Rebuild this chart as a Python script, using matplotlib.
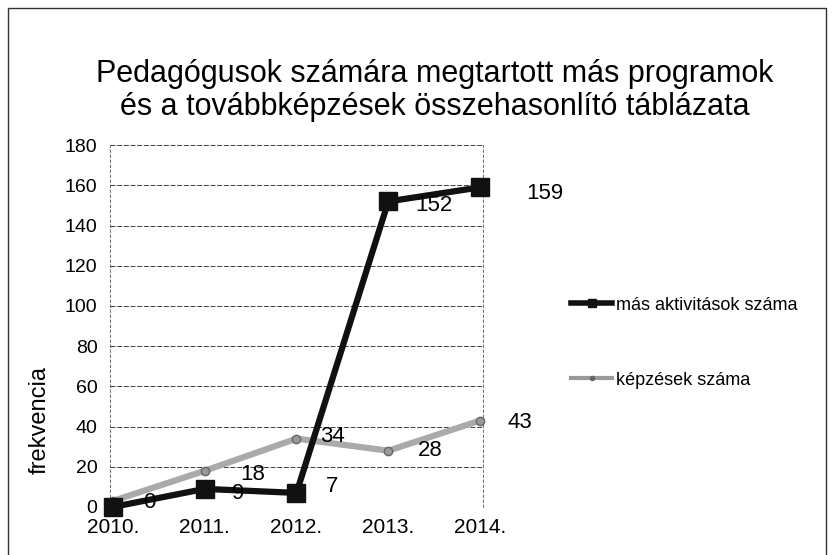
import matplotlib.pyplot as plt
from matplotlib.patches import Rectangle
from matplotlib.lines import Line2D

plt.rcParams['font.family'] = ['Liberation Sans', 'DejaVu Sans']

years = ['2010.', '2011.', '2012.', '2013.', '2014.']
mas_aktivitasok = [0, 9, 7, 152, 159]
kepzesek = [3, 18, 34, 28, 43]

title = 'Pedagógusok számára megtartott más programok\nés a továbbképzések összehasonlító táblázata'

fig = plt.figure(figsize=(8.34, 5.55), dpi=100)
ax = fig.add_axes([0.132, 0.0865, 0.447, 0.652])

x = range(len(years))
ax.plot(x, kepzesek, color='#aaaaaa', lw=4.5, marker='o', ms=6,
        mfc='#999999', mec='#666666', clip_on=False, zorder=3)
ax.plot(x, mas_aktivitasok, color='#111111', lw=4.5, marker='s', ms=13,
        clip_on=False, zorder=4)

# data labels, offsets in data units
mas_offsets = [(0.4, 2), (0.36, -2.5), (0.39, 3), (0.5, -2), (0.7, -3)]
for i, v in enumerate(mas_aktivitasok):
    dx, dy = mas_offsets[i]
    ax.text(i + dx, v + dy, str(v), fontsize=16, ha='center', va='center',
            clip_on=False, zorder=5)
kep_offsets = [None, (0.52, -2), (0.39, 1), (0.46, 0), (0.43, -1)]
for i, v in enumerate(kepzesek):
    if kep_offsets[i] is None:
        continue
    dx, dy = kep_offsets[i]
    ax.text(i + dx, v + dy, str(v), fontsize=16, ha='center', va='center',
            clip_on=False, zorder=5)

ax.set_xlim(-0.03, 4.03)
ax.set_ylim(0, 180)
ax.set_yticks(range(0, 181, 20))
ax.set_xticks(list(x))
ax.set_xticklabels(years)
ax.tick_params(axis='y', length=0, labelsize=14, pad=9)
ax.tick_params(axis='x', length=0, labelsize=15, pad=8)
ax.grid(axis='y', color='#222222', ls=(0, (6, 2)), lw=0.6)
for s in ['top', 'bottom']:
    ax.spines[s].set_visible(False)
for s in ['left', 'right']:
    ax.spines[s].set_linestyle((0, (3, 3)))
    ax.spines[s].set_linewidth(0.6)
    ax.spines[s].set_color('#555555')

fig.text(0.048, 0.243, 'frekvencia', rotation=90, fontsize=17,
         ha='center', va='center')
fig.text(0.521, 0.837, title, fontsize=22, ha='center', va='center',
         linespacing=1.15)

h_mas = Line2D([], [], color='#111111', lw=4, marker='s', ms=6)
h_kep = Line2D([], [], color='#999999', lw=3, marker='o', ms=3,
               mfc='#666666', mec='#666666')
fig.legend([h_mas], ['más aktivitások száma'], loc='center left',
           bbox_to_anchor=(0.665, 0.45), frameon=False, fontsize=13,
           handlelength=2.3, handletextpad=0.2)
fig.legend([h_kep], ['képzések száma'], loc='center left',
           bbox_to_anchor=(0.665, 0.315), frameon=False, fontsize=13,
           handlelength=2.3, handletextpad=0.2)

fig.patches.append(Rectangle((0.01, -0.05), 0.98, 1.035, transform=fig.transFigure,
                             fill=False, ec='#333333', lw=1))

fig.savefig('out.png', dpi=100)
